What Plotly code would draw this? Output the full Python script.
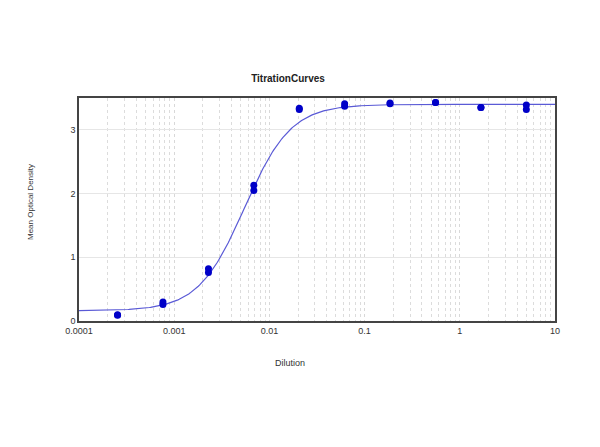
import numpy as np
import plotly.graph_objects as go

# Data
dilution = [0.000254, 0.000254, 0.000762, 0.000762, 0.00229, 0.00229, 0.00686, 0.00686,
            0.0206, 0.0206, 0.0617, 0.0617, 0.185, 0.185, 0.556, 0.556, 1.667, 1.667, 5.0, 5.0]
od = [0.09, 0.10, 0.30, 0.26, 0.82, 0.76, 2.13, 2.05,
      3.34, 3.32, 3.41, 3.37, 3.42, 3.41, 3.43, 3.43, 3.35, 3.35, 3.39, 3.32]

# 4PL fit parameters (estimated from the drawn curve)
fit_bottom = 0.16
fit_top = 3.40
fit_ec50 = 0.00549
fit_hill = 1.79

x_ticks = [0.0001, 0.001, 0.01, 0.1, 1, 10]
x_ticklabels = ["0.0001", "0.001", "0.01", "0.1", "1", "10"]
y_ticks = [0, 1, 2, 3]

xc = np.logspace(-4, 1, 400)
yc = fit_top + (fit_bottom - fit_top) / (1 + (xc / fit_ec50) ** fit_hill)

font_family = "Liberation Sans, Arial, sans-serif"
off = 8  # page body margin offset

fig = go.Figure()
fig.add_trace(go.Scatter(x=xc, y=yc, mode="lines",
                         line=dict(color="#5a5ad6", width=1.2), showlegend=False))
fig.add_trace(go.Scatter(x=dilution, y=od, mode="markers",
                         marker=dict(color="#0000c8", size=7), showlegend=False))

fig.update_layout(
    width=600, height=447,
    margin=dict(l=79 - off, r=45 + off, t=98 - off, b=126 + off),
    paper_bgcolor="white", plot_bgcolor="white",
    font=dict(family=font_family, size=9, color="#333333"),
    title=dict(text="<b>TitrationCurves</b>", x=(288 - off)/600, xanchor="center",
               y=1-(78 - off)/447, yanchor="middle", xref="container", yref="container",
               font=dict(size=10, color="#222222")),
    showlegend=False,
)
fig.update_xaxes(
    type="log", range=[-4, 1],
    tickvals=x_ticks, ticktext=x_ticklabels,
    showgrid=True, gridcolor="#d8d8d8", griddash="dot", gridwidth=1,
    minor=dict(showgrid=True, gridcolor="#dcdcdc", griddash="dot", dtick="D1", ticks=""),
    showline=True, linecolor="#444444", linewidth=1.5, mirror=True,
    ticks="", zeroline=False,
)
fig.update_yaxes(
    range=[0, 3.5], tickvals=y_ticks,
    showgrid=True, gridcolor="#e6e6e6", gridwidth=1,
    showline=True, linecolor="#444444", linewidth=1.5, mirror=True,
    ticks="", zeroline=False,
)
fig.add_annotation(text="Dilution", xref="paper", yref="paper",
                   x=(290-79)/476, y=(321-363)/223, showarrow=False,
                   font=dict(size=9, color="#333333"), xanchor="center", yanchor="middle")
fig.add_annotation(text="Mean Optical Density", xref="paper", yref="paper",
                   x=(30-79)/476, y=(321-202)/223, showarrow=False, textangle=-90,
                   font=dict(size=8, color="#333333"), xanchor="center", yanchor="middle")

fig.write_html("out.html")
